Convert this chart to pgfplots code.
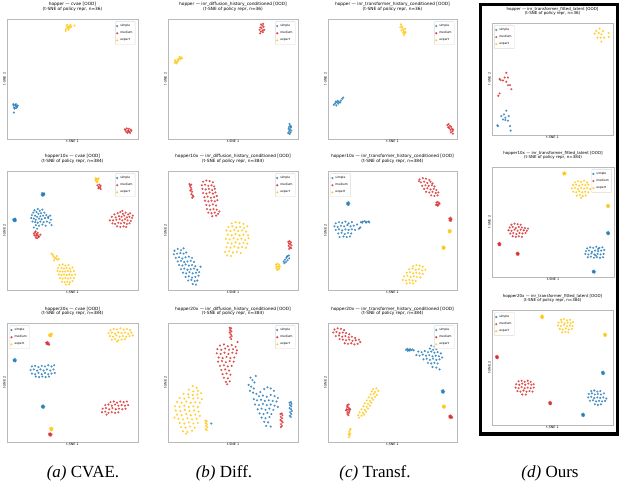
\documentclass[border=0pt]{standalone}
\usepackage{pgfplots}
\pgfplotsset{compat=1.18}
\usepackage{fontspec}
\setmainfont{DejaVu Sans}
\newfontfamily\capfont{Liberation Serif}
\definecolor{cS}{RGB}{31,119,180}
\definecolor{cM}{RGB}{214,39,40}
\definecolor{cE}{RGB}{255,196,10}
\pgfplotsset{
  tp/.style={scale only axis, xmin=0,xmax=100,ymin=0,ymax=100,
    xtick=\empty, ytick=\empty,
    axis line style={gray!55, line width=0.6pt},
    xlabel={t-SNE 1}, ylabel={t-SNE 2},
    label style={font=\fontsize{3.3}{3.6}\selectfont},
    xlabel style={at={(axis description cs:0.5,0)}, anchor=north, inner sep=1pt},
    ylabel style={at={(axis description cs:0,0.5)}, anchor=south, inner sep=1.2pt},
    title style={font=\fontsize{4.3}{4.7}\selectfont, align=center, at={(0.5,1)}, anchor=south, inner sep=1.2pt},
    legend style={font=\fontsize{3}{3.4}\selectfont, draw=gray!30, rounded corners=0.5pt, inner sep=0.6pt, row sep=-0.6pt, fill=white},
    legend cell align=left,
    legend image code/.code={\draw[mark repeat=2,mark phase=2] plot coordinates {(0cm,0cm)(0.05cm,0cm)(0.1cm,0cm)};},
  },
  tpd/.style={tp, title style={font=\fontsize{4}{4.4}\selectfont}},
  lur/.style={legend style={at={(0.98,0.98)},anchor=north east}},
  lul/.style={legend style={at={(0.02,0.98)},anchor=north west}},
  sim/.style={only marks, mark=*, mark size=1.05pt, color=cS, mark options={fill opacity=0.8, draw opacity=0.5, line width=0.1pt}},
  med/.style={only marks, mark=*, mark size=1.05pt, color=cM, mark options={fill opacity=0.8, draw opacity=0.5, line width=0.1pt}},
  exp/.style={only marks, mark=*, mark size=1.05pt, color=cE, mark options={fill opacity=0.8, draw opacity=0.5, line width=0.1pt}},
}
\begin{document}
\begin{tikzpicture}
\path[use as bounding box] (0,0) rectangle (621pt,489pt);
% ---------------- Row 1 ----------------
\begin{axis}[tp, lur, at={(7pt,350pt)}, anchor=south west, width=131pt, height=120pt,
  title={hopper — cvae [OOD]\\(t-SNE of policy repr, n=36)}]
\addplot[sim] coordinates {(6.6,27.5)(5.5,26)(7.8,26.8)(6.2,28.5)(8.2,28)(5,27.8)(7,25.8)(6.8,29)(7.5,27.2)(5.8,25.3)(4.8,29)(5.3,22)};
\addplot[med] coordinates {(90.5,7.5)(91.5,8.8)(92.5,7)(93.5,6)(94.5,7.8)(91,6)(92,5.2)(93,8.5)(94,5)(95,6.8)(90,8)(92.8,6.3)};
\addplot[exp] coordinates {(45,91.5)(46.5,92.5)(47.5,94)(46,95)(48,92.5)(49,93.5)(45.5,93.5)(47,91)(46.8,93.2)(48.5,95)(51.5,94.5)(44.8,90)};
\legend{simple,medium,expert}
\end{axis}
\begin{axis}[tp, lur, at={(168pt,350pt)}, anchor=south west, width=130pt, height=120pt,
  title={hopper — inr\_diffusion\_history\_conditioned [OOD]\\(t-SNE of policy repr, n=36)}]
\addplot[sim] coordinates {(93.5,12.5)(94,11)(93,10)(94.5,9.5)(92.8,8.5)(93.8,8)(94.8,7)(93.2,6.5)(94.2,5.5)(92.5,5)(93.6,4.2)(94.6,10.5)};
\addplot[med] coordinates {(71.5,95.5)(72.5,94.5)(73.2,96)(71,93)(72,92.5)(73.5,93.5)(70.5,91)(72.8,90.5)(71.5,89.5)(73,89)(74,91)(70.8,88)};
\addplot[exp] coordinates {(5.2,63.5)(6,64.5)(5.5,65.5)(7,64)(7.5,66)(8,65)(8.5,67)(9.5,66.5)(10.2,68)(9,68.5)(10.8,67.2)(6.5,63)};
\legend{simple,medium,expert}
\end{axis}
\begin{axis}[tp, lur, at={(328pt,350pt)}, anchor=south west, width=129pt, height=120pt,
  title={hopper — inr\_transformer\_history\_conditioned [OOD]\\(t-SNE of policy repr, n=36)}]
\addplot[sim] coordinates {(4.5,28.5)(5.5,29.5)(6.5,28)(7,30.5)(8,29.5)(8.5,31)(9.5,30.5)(10,32)(7.5,31.8)(6,31)(11,33.5)(11.8,34.5)};
\addplot[med] coordinates {(92.5,11.5)(93.5,12.5)(94.5,11)(95.5,10)(94,9)(96,8.5)(95,7.5)(96.5,6.5)(95.2,5.5)(96.8,4.5)(93.2,9.8)(97,7.8)};
\addplot[exp] coordinates {(56.5,95.5)(57.2,94)(56,93)(57.8,92.5)(58.5,91)(57,90.5)(59,89.5)(58.2,88.5)(59.5,88)(60.2,89)(58.8,86.5)(59.8,91.8)};
\legend{simple,medium,expert}
\end{axis}
\begin{axis}[tpd, lul, at={(492pt,354pt)}, anchor=south west, width=121pt, height=112pt,
  title={hopper — inr\_transformer\_fitted\_latent [OOD]\\(t-SNE of policy repr, n=36)}]
\addplot[sim] coordinates {(11.8,21.7)(9.9,18.4)(7.7,16.9)(11,15.4)(13.8,16.9)(9.1,13.9)(11,13.4)(13.2,12.8)(4.4,8.6)(5,8)(14.9,8)(15.4,3.9)};
\addplot[med] coordinates {(11.8,55.5)(10.5,51.3)(13.2,51.3)(6.3,49.9)(9.1,48.7)(11.8,47.5)(13.2,44.5)(14.9,44.5)(16,40.9)(6.3,37.1)(5.2,35)(7.2,49)};
\addplot[exp] coordinates {(89,95)(86.2,92.9)(91.7,92.9)(88.2,91.1)(84.8,90.5)(90.4,89.9)(96.4,91.1)(87.1,86.9)(89.8,86.9)(92.6,86.9)(96.4,87.5)(90.4,83.4)};
\legend{simple,medium,expert}
\end{axis}
% ---------------- Row 2 ----------------
\begin{axis}[tp, lur, at={(7pt,199pt)}, anchor=south west, width=131pt, height=119pt,
  title={hopper10x — cvae [OOD]\\(t-SNE of policy repr, n=384)}]
\addplot[sim] coordinates {(26.5,80)(27.5,81)(28.5,80.5)(27,79.2)(28,79.5)(26.8,81.5)(28.3,81.3)(27.6,80.2)
(5,58.5)(6,59.5)(6.8,58.8)(5.5,57.8)(6.5,58)(5.8,59)(6.2,60)(4.8,59.4)
(21,67)(23.5,68)(25,66.5)(27,67.5)(20,65)(22.5,65.5)(24,64)(26,64.5)(28.5,65)(19,63)(21.5,62.5)(23,61.5)(25.5,62)(27.5,62.5)(30,63)(18.5,60.5)(20.5,60)(22,59)(24.5,60)(26.5,59.5)(29,60.5)(31.5,60.5)(33.5,59)(19.5,57.5)(21.5,57)(23.5,56.5)(25.5,57.5)(28,57)(30.5,57.5)(32.5,56.5)(34,54.5)(22,54.5)(24.5,54)(27,55)(29.5,54)(23,51.5)(20.5,52.5)(31.5,61.5)(33,62.5)};
\addplot[med] coordinates {(82,63.5)(84.5,64.5)(86.5,65.5)(88.5,64)(90.5,65)(92.5,63.5)(94,64.5)(80,61.5)(83,61)(85.5,62)(87.5,61.5)(89.5,62.5)(91.5,61)(93.5,61.5)(95.5,60.5)(78.5,58.5)(81,58.5)(83.5,59)(86,59.5)(88,58.5)(90,59.5)(92,58.5)(94.5,58)(80.5,56)(82.5,55.5)(85,56.5)(87,56)(89.5,56.5)(91.5,55.5)(93.5,56)(84,53.5)(86.5,53)(89,53.5)(91,53)(88,66.5)(96,62.5)
(20.5,47.5)(21.5,48.5)(22.5,47)(23.5,48)(21,46)(22.2,45.5)(23.5,46)(24.5,45)(22,44)(23,43.5)(24,44.5)(25.5,46.5)(21.8,49.3)
(69,88)(70.5,88.5)(71.5,87.5)(70,86.5)(71,86)(69.8,85.5)(71.5,84.8)};
\addplot[exp] coordinates {(67.5,92.5)(68.5,93.5)(69.5,92.8)(68,91.5)(69.2,91.2)(67.8,94)(70,93.8)(68.8,90.5)
(40,21)(42.5,21.5)(44.5,20.5)(47,21)(39,18.5)(41.5,18.5)(43.5,18)(45.5,18.5)(48,18)(50,19)(38.5,16)(40.5,15.5)(42.5,15.5)(44.5,15.5)(46.5,16)(48.5,15.5)(51,16)(39.5,13)(41.5,12.5)(43.5,13)(45.5,12.5)(47.5,13)(49.5,12.5)(52,13)(40.5,10)(42.5,9.5)(44.5,10)(46.5,9.5)(48.5,10)(51,10)(42,7)(44,6.5)(46,7)(48,6.5)(50,7.5)(45,4.5)(47.5,4.8)
(34,30.5)(35,29.5)(35.5,28)(36.5,27)(37.5,26.5)(38.5,25.5)(39.5,26)(36,25)(38,28.5)};
\legend{simple,medium,expert}
\end{axis}
\begin{axis}[tp, lur, at={(168pt,199pt)}, anchor=south west, width=130pt, height=119pt,
  title={hopper10x — inr\_diffusion\_history\_conditioned [OOD]\\(t-SNE of policy repr, n=384)}]
\addplot[sim] coordinates {(5,33)(7.5,34.5)(10,33.5)(12,35)(4.5,30)(7,30.5)(9.5,31)(12,30.5)(14,31.5)(6,27)(8.5,27.5)(11,26.5)(13.5,27.5)(16,28)(18.5,27)(7.5,24)(10,24.5)(12.5,23.5)(15,24)(17.5,24.5)(20,23.5)(8.5,21)(11,20.5)(13.5,21.5)(16,20.5)(18.5,21)(21,20)(10,17.5)(12.5,18)(15,17)(17.5,17.5)(20,18)(22.5,17)(11.5,14.5)(14,14)(16.5,15)(19,14)(21.5,14.5)(24,15)(13.5,11)(16,11.5)(18.5,10.5)(21,11)(23.5,12)(15.5,8)(18,8.5)(20.5,7.5)(22.5,8)(19,5)(21.5,4.5)(25,19.5)
(89,24)(90,25.5)(91,27)(92,28.5)(93,29)(89.5,22.5)(90.8,23.5)(92,25)(93.2,26.5)(91.5,28)};
\addplot[med] coordinates {(27,91)(29.5,92)(32,91.5)(34.5,90.5)(26,88)(28.5,88.5)(31,87.5)(33.5,88)(35.5,87)(26.5,85)(29,84.5)(31.5,85)(34,84)(36,85)(27,81.5)(29.5,81)(32,82)(34.5,81)(36.5,82)(28,78)(30.5,78.5)(33,77.5)(35.5,78)(37.5,79)(28.5,75)(31,74.5)(33.5,75)(36,74.5)(38,75.5)(29.5,71.5)(32,71)(34.5,72)(37,71)(30,68)(32.5,67.5)(35,68)(37.5,67.5)(31,65)(33.5,64.5)(36,65)(38.5,64)(34,62)(37,62.5)(39.5,66)
(16.5,89)(17,87.5)(17.8,88.5)(17.5,86)(18,84.5)(17.2,83.5)(18.5,82.5)(18,80.5)(19,79.5)(18.6,77.5)(19.5,78.5)
(92.5,40.5)(93.5,41)(94.5,40)(93,39)(94,38.5)(95,37.5)(92.8,37)(93.8,36)(94.7,35.2)(93.2,34.5)};
\addplot[exp] coordinates {(49,56)(52,57)(55,56.5)(58,55.5)(46.5,53)(49.5,53.5)(52.5,52.5)(55.5,53)(58.5,52)(61,53.5)(45,50)(48,49.5)(51,50.5)(54,49.5)(57,50)(60,49)(46,46.5)(49,46)(52,47)(55,46)(58,46.5)(61.5,46)(44.5,43)(47.5,42.5)(50.5,43.5)(53.5,42.5)(56.5,43)(59.5,42)(62,43.5)(46,39.5)(49,39)(52,40)(55,39)(58,39.5)(61,39)(45,36)(48,35.5)(51,36.5)(54,35.5)(57,36)(60,35.5)(44,32)(47,32.5)(50,31.5)(53,32)(56,31)(45.5,29)(48.5,28.5)
(83,21.5)(84.5,22)(85.5,21)(83.5,20)(84.8,19.5)(86,19.8)(83.2,18.5)(84.5,17.5)(85.6,18)(84,16.8)};
\legend{simple,medium,expert}
\end{axis}
\begin{axis}[tp, lul, at={(328pt,199pt)}, anchor=south west, width=129pt, height=119pt,
  title={hopper10x — inr\_transformer\_history\_conditioned [OOD]\\(t-SNE of policy repr, n=384)}]
\addplot[sim] coordinates {(14.8,73)(15.8,73.8)(16.5,72.8)(15,71.8)(16,71.5)(15.5,72.5)
(6,56)(8.5,57)(11,56.5)(13.5,57.5)(16,56)(18.5,57)(5,53.5)(7.5,53)(10,54)(12.5,53.5)(15,54.5)(17.5,53.5)(20,54)(22.5,55)(6,50.5)(8.5,51)(11,50)(13.5,51)(16,50.5)(18.5,51)(21,50.5)(24,51.5)(8,47.5)(10.5,48)(13,47)(15.5,48)(18,47.5)(12,45)(14.5,44.5)(17,45)(9,44.5)(25,52.5)
(25.5,57)(27,57.5)(28.5,57.8)(30,57.2)(31.5,57.6)(26.5,56.5)(29.5,56.6)(32,56.8)};
\addplot[med] coordinates {(71,93)(73.5,94)(76,93.5)(78.5,92.5)(72,90.5)(74.5,91)(77,90)(79.5,91)(81,89.5)(73,87.5)(75.5,88)(78,87.5)(80.5,88)(82.5,87)(74.5,85)(77,85.5)(79.5,84.5)(82,85)(84,84)(76,82.5)(78.5,82)(81,82.5)(83.5,81.5)(85.5,82)(80,79.5)(82.5,79)(85,79.5)(70.5,91.5)
(84,73.5)(85,74)(86,73.2)(84.5,72)(85.5,71.5)(86.5,72.5)(85,70.8)(83.8,71.5)
(94,60)(95,60.8)(95.8,59.5)(94.3,58.5)(95.3,58)(94.8,59.4)};
\addplot[exp] coordinates {(93.5,50)(94.5,50.5)(95.3,49.5)(93.8,48.5)(94.8,48.5)(94,49.3)
(88.8,36.2)(89.8,36.6)(90.5,35.5)(89,34.7)(90,34.5)(89.5,35.5)
(66,20)(68.5,21)(71,20.5)(73.5,19.5)(63,17.5)(65.5,18)(68,17)(70.5,17.5)(73,16.5)(75.5,17)(61,14.5)(63.5,15)(66,14)(68.5,14.5)(71,14)(73.5,13.5)(59,11.5)(61.5,12)(64,11)(66.5,11.5)(69,11)(71.5,10.5)(58,8.5)(60.5,8)(63,8.5)(65.5,8)(68,7.5)(61,5.5)(63.5,6)(66,5.5)};
\legend{simple,medium,expert}
\end{axis}
\begin{axis}[tpd, lur, at={(492pt,212pt)}, anchor=south west, width=122pt, height=110pt,
  title={hopper10x — inr\_transformer\_fitted\_latent [OOD]\\(t-SNE of policy repr, n=384)}]
\addplot[sim] coordinates {(94.3,40.4)(95.3,41)(96,39.9)(94.6,39.1)(95.6,38.9)(95.1,39.9)
(78,26)(80.5,27)(83,26.5)(85.5,27.5)(88,26.5)(90.5,27)(77,23.5)(79.5,24)(82,23)(84.5,24)(87,23.5)(89.5,24)(92,24.5)(76.5,21)(79,20.5)(81.5,21.5)(84,20.5)(86.5,21)(89,20.5)(91.5,21)(78.5,18)(81,18.5)(83.5,17.5)(86,18)(88.5,17.5)(91,18)(85,19.5)(87,25.5)
(82.6,5.3)(83.6,5.8)(84.3,4.8)(82.9,4.2)(83.9,3.9)(83.4,4.9)};
\addplot[med] coordinates {(16,47.5)(18.5,48.5)(21,48)(23.5,47.5)(14.5,45)(17,45.5)(19.5,44.5)(22,45.5)(24.5,45)(27,44.5)(13.5,42.5)(16,42)(18.5,43)(21,42)(23.5,43)(26,42.5)(28.5,42)(15,39.5)(17.5,40)(20,39)(22.5,40)(25,39.5)(27.5,40)(17,37)(19.5,36.5)(22,37)(24.5,36.5)(29.5,44)
(5.2,30.4)(6.2,31)(6.9,29.9)(5.5,29.1)(6.5,28.9)(6,29.9)
(20.2,21.6)(21.2,22.2)(21.9,21.1)(20.5,20.3)(21.5,20.1)(21,21.1)};
\addplot[exp] coordinates {(58.3,94.5)(59.3,95.2)(60.2,94.3)(58.8,93.2)(59.8,93.3)(59.2,94.2)
(68,86)(70.5,87)(73,86.5)(75.5,87.5)(78,86)(66.5,83.5)(69,84)(71.5,83)(74,84)(76.5,83.5)(79,84)(65.5,80.5)(68,81)(70.5,80)(73,81)(75.5,80.5)(78,81)(80.5,80)(66.5,77.5)(69,77)(71.5,78)(74,77)(76.5,77.5)(79,77)(69.5,74)(72,74.5)(74.5,73.5)(77,74)(73,72)
(94.3,65)(95.3,65.7)(96,64.6)(94.6,63.8)(95.6,63.6)(95.1,64.6)};
\legend{simple,medium,expert}
\end{axis}
% ---------------- Row 3 ----------------
\begin{axis}[tp, lul, at={(7pt,47pt)}, anchor=south west, width=131pt, height=119pt,
  title={hopper20x — cvae [OOD]\\(t-SNE of policy repr, n=384)}]
\addplot[sim] coordinates {(5,69)(6,69.8)(6.8,68.8)(5.3,68)(6.3,67.7)(5.9,68.6)
(19,63.5)(21.5,64)(24,63)(26.5,64)(29,63.5)(31.5,64.5)(34,63.5)(36,64.5)(18,60.5)(20.5,61)(23,60)(25.5,61)(28,60)(30.5,61)(33,60)(35.5,61)(19,57.5)(21.5,57)(24,58)(26.5,57)(29,58)(31.5,57)(34,57.5)(36.5,58)(22,55)(24.5,54.5)(27,55)(29.5,54.5)(32,55)
(26.6,30.2)(27.6,30.8)(28.4,29.8)(26.9,29)(27.9,28.7)(27.5,29.7)};
\addplot[med] coordinates {(29.8,83.5)(30.8,84)(31.8,83.2)(30.3,82.3)(31.3,82)(32.2,81.8)(30.8,83)
(79,33.5)(81.5,34)(84,33)(86.5,34)(89,33.5)(91.5,34)(75,31)(77.5,31.5)(80,30.5)(82.5,31.5)(85,30.5)(87.5,31)(90,30.5)(92.5,31)(73,28)(75.5,28.5)(78,27.5)(80.5,28.5)(83,27.5)(85.5,28)(88,27.5)(90.5,28)(72.5,25)(75,25.5)(77.5,24.5)(80,25)(82.5,24.5)(85,25)(76,23)
(32,6.8)(33,7.3)(34,6.5)(32.5,5.6)(33.5,5.3)(33,6.3)};
\addplot[exp] coordinates {(79,94)(81.5,95)(84,94.5)(86.5,95.5)(89,94.5)(91.5,95)(94,94)(77.5,91.5)(80,92)(82.5,91)(85,92)(87.5,91.5)(90,92)(92.5,91)(95,92)(78.5,89)(81,88.5)(83.5,89.5)(86,88.5)(88.5,89)(91,88.5)(93.5,89)(96,89.5)(80,86)(82.5,86.5)(85,85.5)(87.5,86)(90,86.5)(84,84.5)
(32,90)(33,90.8)(34,90)(32.5,89)(33.5,88.8)(33,89.8)(34.2,91)
(32.8,11.5)(34,12)(34.8,11)(33.2,10.2)(34.2,9.8)(33.6,10.8)};
\legend{simple,medium,expert}
\end{axis}
\begin{axis}[tp, lur, at={(168pt,47pt)}, anchor=south west, width=130pt, height=119pt,
  title={hopper20x — inr\_diffusion\_history\_conditioned [OOD]\\(t-SNE of policy repr, n=384)}]
\addplot[sim] coordinates {(63.5,54)(65,52)(66.5,50)(67.5,55.5)(62,48)(64,46.5)(66,45)(63,43)(65.5,41.5)(68,40.5)(71,42)(74,44.5)(76.5,46)(79,45)(81.5,43)(70,38.5)(73,39)(76,38)(79,39.5)(82,38.5)(84.5,37)(66,36)(68.5,35)(71.5,35.5)(74.5,34.5)(77.5,35)(80.5,34.5)(83.5,34)(67,31.5)(70,31)(73,32)(76,31)(79,31.5)(82,30.5)(84.5,29.5)(69,27.5)(72,28)(75,27)(78,28)(81,27)(70.5,24)(73.5,23.5)(76.5,24.5)(79.5,23.5)(72,20.5)(75,20)(78,21)(74,17)(77,16.5)(75.5,13.5)(79,13)
(93.5,33)(94.5,33.5)(95,32)(93.8,31)(94.8,30)(93.5,28.5)(94.6,27.5)(95.2,26)(93.9,25)(94.8,23.5)(93.7,22)(94.5,21)
(33.3,15.5)};
\addplot[med] coordinates {(47.5,96)(48.5,95.5)(47.8,94)(48.8,93)(47.5,92)(48.3,90.5)(49,89)(47.8,88)(48.6,86.5)
(40,81)(43,82)(46,80.5)(49,81.5)(52,80)(38,78)(41,77.5)(44,78.5)(47,77.5)(50,78)(53,77)(37.5,74.5)(40.5,74)(43.5,75)(46.5,74)(49.5,75)(52.5,74.5)(39,71)(42,70.5)(45,71.5)(48,70.5)(51,71)(38.5,67.5)(41.5,68)(44.5,67)(47.5,68)(50.5,67.5)(40,64)(43,64.5)(46,63.5)(49,64)(41,60.5)(44,61)(47,60)(42,57)(45,57.5)(48,56.5)(43,54)(46,53.5)(44.5,50.5)(47.5,51)(45.5,48.5)(53.5,84)
(86.5,23.5)(87.5,24)(88,22.5)(86.8,21)(87.8,20)(86.5,18.5)(87.4,17.5)(88.2,16.5)(86.9,15)(87.6,13.5)(86.8,12.5)};
\addplot[exp] coordinates {(19,47)(22,45.5)(16,44)(19.5,42.5)(23,43)(12,40.5)(15.5,40)(19,39.5)(22.5,40)(25.5,41)(9,37)(12.5,36.5)(16,37.5)(19.5,36.5)(23,37)(26,36)(7,33.5)(10.5,33)(14,34)(17.5,33)(21,33.5)(24.5,33)(5.5,30)(9,29.5)(12.5,30.5)(16,29.5)(19.5,30)(23,29.5)(6,26.5)(9.5,26)(13,27)(16.5,26)(20,26.5)(23.5,25.5)(7,23)(10.5,22.5)(14,23.5)(17.5,22.5)(21,23)(24.5,22)(8,19.5)(11.5,19)(15,20)(18.5,19)(22,19.5)(9,16)(12.5,15.5)(16,16.5)(19.5,15.5)(23,16)(10,12.5)(13.5,12)(17,13)(20.5,12)(11.5,9)(15,8.5)(18.5,9.5)(14,7)(5,20.5)
(28.8,18)(29.8,17.5)(29,16)(30,15)(29.3,13.5)(30.2,12.5)(29,11)(29.8,10)};
\legend{simple,medium,expert}
\end{axis}
\begin{axis}[tp, lur, at={(328pt,47pt)}, anchor=south west, width=129pt, height=119pt,
  title={hopper20x — inr\_transformer\_history\_conditioned [OOD]\\(t-SNE of policy repr, n=384)}]
\addplot[sim] coordinates {(60.5,77.5)(61.5,78.3)(62.5,77.3)(63.5,78)(64.5,77.2)(65.5,77.8)(61.8,76.7)(63.2,76.8)(66.5,77)
(80,81)(82.5,80)(79,78.5)(81.5,77.5)(84,78)(70,76)(72.5,75.5)(75,76.5)(77.5,75.5)(80,76)(82.5,75)(85,75.5)(87.5,74.5)(68.5,73)(71,72.5)(73.5,73.5)(76,72.5)(78.5,73)(81,72)(83.5,72.5)(86,72)(88.5,71)(74,69.5)(76.5,70)(79,69)(81.5,70)(84,69)(86.5,69.5)(77.5,66.5)(80,66)(82.5,66.5)(85,66)(81,63)(84,62.5)(86.5,61)
(88.2,43)(89.2,43.6)(90,42.5)(88.5,41.6)(89.5,41.4)(89,42.4)};
\addplot[med] coordinates {(5,94.5)(7.5,95.5)(10,95)(12.5,94)(4,92)(6.5,92.5)(9,91.5)(11.5,92)(14,91.5)(16.5,90.5)(6,89)(8.5,89.5)(11,88.5)(13.5,89)(16,88)(18.5,88.5)(21,87.5)(9,86.5)(11.5,86)(14,85.5)(16.5,86)(19,85)(21.5,85.5)(24,86)(13,83)(15.5,82.5)(18,83)(20.5,82)(23,82.5)(25,84)
(15,31)(16,31.5)(14.8,29.5)(15.8,29)(16.5,28)(14.5,27.5)(15.5,27)(16.6,26)(15.2,25)(16.2,24.5)(15,23.5)(15.8,22.5)(14,26.5)(17.2,27.5)
(94,21.8)(95,22.4)(95.8,21.4)(94.3,20.5)(95.3,20.2)(94.8,21.2)(96.2,20.5)};
\addplot[exp] coordinates {(35,44.5)(37.5,45)(34,42.5)(36.5,42)(39,43)(33,40)(35.5,40.5)(38,39.5)(31.5,37.5)(34,37)(36.5,38)(30,35)(32.5,34.5)(35,35.5)(28.5,32.5)(31,32)(33.5,33)(27.5,30)(30,29.5)(32.5,30.5)(26,27.5)(28.5,27)(31,28)(24.5,25)(27,24.5)(29.5,25.5)(23.5,22.5)(26,22)(28,23)(24,20.5)
(89,30.2)(90,30.8)(90.8,29.8)(89.3,29)(90.3,28.7)(89.8,29.8)
(16.2,4)(16.8,5.5)(17.2,7)(16.5,8.5)(17,10)(17.5,11)(16,6.5)};
\legend{simple,medium,expert}
\end{axis}
\begin{axis}[tpd, lul, at={(492pt,64pt)}, anchor=south west, width=121pt, height=115pt,
  title={hopper20x — inr\_transformer\_fitted\_latent [OOD]\\(t-SNE of policy repr, n=384)}]
\addplot[sim] coordinates {(90.9,45.9)(91.9,46.4)(92.6,45.3)(91.2,44.5)(92.2,44.3)(91.7,45.3)
(82,29.5)(84.5,30)(87,29)(89.5,29.5)(80,27)(82.5,27.5)(85,26.5)(87.5,27)(90,26.5)(92.5,27.5)(79.5,24)(82,24.5)(84.5,23.5)(87,24)(89.5,23.5)(92,24)(94.5,23)(81,21)(83.5,21.5)(86,20.5)(88.5,21)(91,20.5)(93.5,21)(85,18)(87.5,17.5)(90,18)
(74.4,9.3)(75.4,9.8)(76.1,8.8)(74.7,8)(75.7,7.8)(75.2,8.8)};
\addplot[med] coordinates {(22,38)(24.5,38.5)(27,37.5)(29.5,38.5)(32,37.5)(20,35.5)(22.5,35)(25,36)(27.5,35)(30,36)(32.5,35)(34.5,35.5)(19.5,32.5)(22,32)(24.5,33)(27,32)(29.5,32.5)(32,32)(34.5,32.5)(21,29.5)(23.5,29)(26,30)(28.5,29)(31,29.5)(33.5,29)(25,26.5)(28,26.5)
(3.3,59.6)(4.3,60.1)(5,59.1)(3.6,58.3)(4.6,58.1)(4.1,59.1)
(47.2,19.6)(48.2,20.1)(48.9,19.1)(47.5,18.3)(48.5,18.1)(48,19.1)};
\addplot[exp] coordinates {(40.5,94.5)(41.5,95.2)(42.2,94.2)(40.8,93.3)(41.8,93)(41.3,94)
(57,91.5)(59.5,92)(62,91)(64.5,91.5)(55,89)(57.5,89.5)(60,88.5)(62.5,89)(65,88.5)(67,89.5)(54.5,86.5)(57,86)(59.5,87)(62,86)(64.5,86.5)(66.5,86)(56,83.5)(58.5,83)(61,84)(63.5,83)(66,83.5)(58,80.5)(60.5,81)(63,80.5)
(92.6,79)(93.6,79.5)(94.3,78.4)(92.9,77.6)(93.9,77.4)(93.4,78.4)};
\legend{simple,medium,expert}
\end{axis}
% frame around column d
\draw[line width=3.5pt, black] (480.5pt,484.5pt) rectangle (617.5pt,55pt);
% captions
\node[anchor=base] at (83pt,11pt) {\capfont\fontsize{17}{20}\selectfont\textit{(a)} CVAE.};
\node[anchor=base] at (224pt,11pt) {\capfont\fontsize{17}{20}\selectfont\textit{(b)} Diff.};
\node[anchor=base] at (375pt,11pt) {\capfont\fontsize{17}{20}\selectfont\textit{(c)} Transf.};
\node[anchor=base] at (550pt,11pt) {\capfont\fontsize{17}{20}\selectfont\textit{(d)} Ours};
\end{tikzpicture}
\end{document}
